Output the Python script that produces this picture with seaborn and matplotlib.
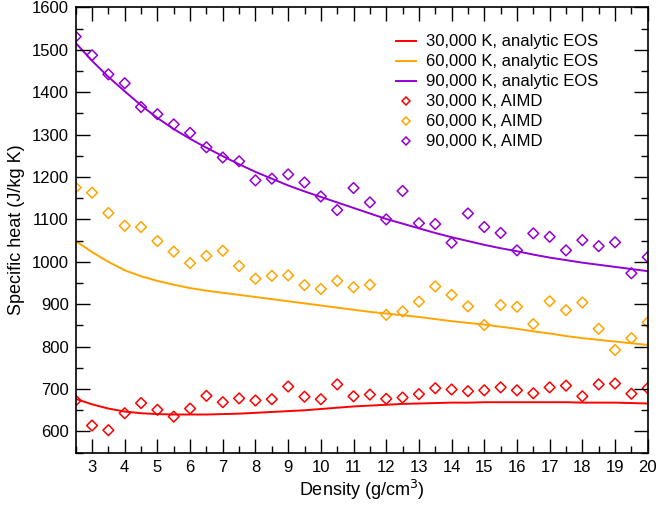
import numpy as np
import pandas as pd
import matplotlib
matplotlib.use("Agg")
import matplotlib.pyplot as plt
import seaborn as sns
from matplotlib.ticker import MultipleLocator
from matplotlib.lines import Line2D

density = [2.5, 3, 3.5, 4, 4.5, 5, 5.5, 6, 6.5, 7, 7.5, 8, 8.5, 9, 9.5, 10, 10.5, 11,
           11.5, 12, 12.5, 13, 13.5, 14, 14.5, 15, 15.5, 16, 16.5, 17, 17.5, 18, 18.5, 19, 19.5, 20]

# AIMD points
aimd_30k = [673, 614, 603, 643, 667, 651, 635, 654, 684, 669, 678, 673, 676, 706, 682, 676, 711, 683,
            687, 677, 680, 688, 702, 699, 695, 697, 704, 697, 690, 704, 708, 683, 711, 713, 689, 702]
aimd_60k = [1175, 1163, 1115, 1085, 1082, 1049, 1024, 997, 1014, 1026, 990, 960, 967, 968, 945, 936, 955, 940,
            946, 875, 883, 906, 942, 922, 895, 851, 898, 894, 853, 907, 886, 904, 842, 792, 820, 857]
aimd_90k = [1531, 1487, 1442, 1421, 1365, 1348, 1324, 1304, 1270, 1246, 1237, 1192, 1196, 1206, 1187, 1154, 1122, 1174,
            1140, 1100, 1167, 1091, 1089, 1045, 1114, 1082, 1068, 1027, 1067, 1059, 1027, 1051, 1037, 1046, 973, 1011]

# analytic EOS curves
eos_30k = [677, 664, 654, 647, 643, 641, 640, 640, 640, 641, 642, 644, 646, 648, 650, 653, 656, 659,
           661, 663, 665, 666, 667, 668, 668, 669, 669, 669, 669, 669, 669, 668, 668, 668, 667, 666]
eos_60k = [1049, 1023, 1000, 980, 966, 955, 946, 938, 932, 927, 922, 917, 912, 907, 902, 897, 892, 887,
           882, 878, 874, 870, 865, 860, 856, 852, 847, 842, 836, 831, 825, 820, 816, 812, 808, 804]
eos_90k = [1516, 1474, 1436, 1402, 1369, 1339, 1313, 1290, 1269, 1249, 1230, 1212, 1196, 1180, 1166, 1153, 1140, 1127,
           1114, 1101, 1090, 1079, 1068, 1058, 1049, 1040, 1032, 1025, 1017, 1010, 1004, 998, 993, 988, 983, 978]

temps = ["30,000 K", "60,000 K", "90,000 K"]
colors = ["#ff0000", "#ffa500", "#9400d3"]

plt.rcParams.update({
    "xtick.direction": "in", "ytick.direction": "in",
    "xtick.top": True, "ytick.right": True,
    "xtick.major.size": 10, "ytick.major.size": 10,
    "xtick.minor.size": 5, "ytick.minor.size": 5,
    "xtick.major.width": 1, "ytick.major.width": 1,
    "xtick.minor.width": 1, "ytick.minor.width": 1,
    "xtick.color": "black", "ytick.color": "black",
    "xtick.labelsize": 12, "ytick.labelsize": 12,
    "xtick.major.pad": 5, "ytick.major.pad": 5,
    "axes.linewidth": 1.2, "axes.edgecolor": "black",
    "axes.axisbelow": False,
})
plt.rcParams['font.family'] = ['Liberation Sans', 'DejaVu Sans']

fig = plt.figure(figsize=(6.57, 5.05), dpi=100)
ax = fig.add_axes([0.1152, 0.1036, 0.8707, 0.8819])

for t, c, ys in zip(temps, colors, [eos_30k, eos_60k, eos_90k]):
    df = pd.DataFrame({"density": density, "cp": ys})
    sns.lineplot(data=df, x="density", y="cp", color=c, lw=1.4, ax=ax,
                 estimator=None, sort=False, legend=False)

for t, c, ys in zip(temps, colors, [aimd_30k, aimd_60k, aimd_90k]):
    df = pd.DataFrame({"density": density, "cp": ys})
    sns.scatterplot(data=df, x="density", y="cp", ax=ax, legend=False, marker="D",
                    s=30, facecolors="none", edgecolor=c, linewidth=1.1)

ax.set_xlim(2.5, 20)
ax.set_ylim(550, 1600)
ax.set_xticks(np.arange(3, 21, 1))
ax.set_yticks(np.arange(600, 1601, 100))
ax.xaxis.set_minor_locator(MultipleLocator(0.5))
ax.yaxis.set_minor_locator(MultipleLocator(50))

ax.set_xlabel("Density (g/cm$^3$)", fontsize=13, labelpad=2)
ax.set_ylabel("Specific heat (J/kg K)", fontsize=13, labelpad=5)

handles = [Line2D([], [], color=c, lw=1.4) for c in colors] + \
          [Line2D([], [], linestyle="none", marker="D", markersize=4.5, markerfacecolor="none",
                  markeredgecolor=c, markeredgewidth=1.1) for c in colors]
labels = [f"{t}, analytic EOS" for t in temps] + [f"{t}, AIMD" for t in temps]
leg = ax.legend(handles, labels, loc="upper left", bbox_to_anchor=(0.5594, 0.939),
                frameon=False, fontsize=12, handlelength=1.2, handletextpad=0.6,
                labelspacing=0.30, borderaxespad=0, borderpad=0)

ax.set_axisbelow(False)
ax.tick_params(which="both", direction="in", top=True, right=True, bottom=True, left=True,
               width=1, color="black")
ax.tick_params(which="major", length=10)
ax.tick_params(which="minor", length=5)

fig.savefig("out.png", dpi=100)
